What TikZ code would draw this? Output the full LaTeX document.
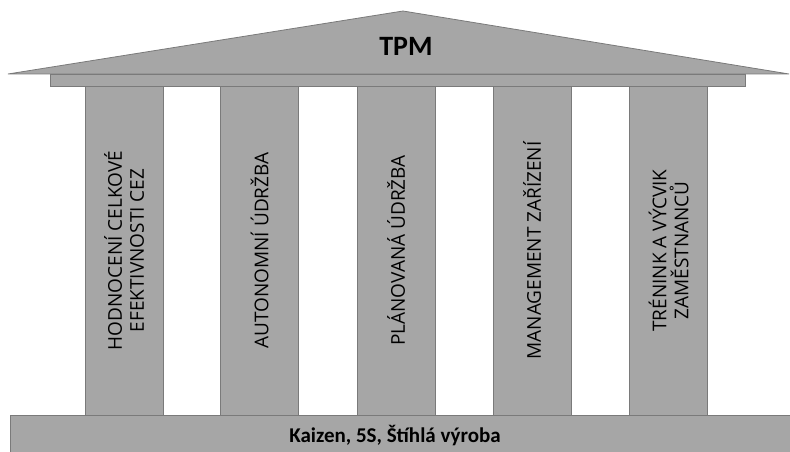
\documentclass[tikz,border=0pt]{standalone}
\usepackage{fontspec}
\setmainfont{Carlito}
\newfontfamily\pillarfont{Open Sans}
\usepackage{xcolor}
\usepackage{tikz}
\definecolor{TPMGray}{HTML}{A6A6A6}
\definecolor{TPMLine}{HTML}{7A7A7A}

\begin{document}
\begin{tikzpicture}[x=1pt,y=-1pt,
  part/.style={fill=TPMGray,draw=TPMLine,line width=0.8pt},
  pillar/.style={part,rotate=90,minimum width=329pt,minimum height=78pt,
    inner sep=0pt,align=center,font=\pillarfont\fontsize{19}{22}\selectfont}]
\path[use as bounding box] (0,0) rectangle (790,452);
% roof and beam
\draw[part] (8,74) -- (403,11) -- (789,74) -- cycle;
\node[font=\bfseries\fontsize{28}{32}\selectfont] (tpm) at (406,46) {TPM};
\draw[part] (50,74) rectangle (745,86);
% pillars
\node[pillar] (oee) at (124,250.5) {HODNOCENÍ CELKOVÉ\\EFEKTIVNOSTI CEZ};
\node[pillar] (auto) at (259.5,250.5) {AUTONOMNÍ ÚDRŽBA};
\node[pillar] (plan) at (396,250.5) {PLÁNOVANÁ ÚDRŽBA};
\node[pillar] (equip) at (532,250.5) {MANAGEMENT ZAŘÍZENÍ};
\node[pillar] (train) at (668.5,250.5) {TRÉNINK A VÝCVIK\\ZAMĚSTNANCŮ};
% base
\draw[part] (10,415) rectangle (800,462);
\node[font=\bfseries\fontsize{21}{24}\selectfont] (base) at (395,436) {Kaizen, 5S, Štíhlá výroba};
\end{tikzpicture}
\end{document}
